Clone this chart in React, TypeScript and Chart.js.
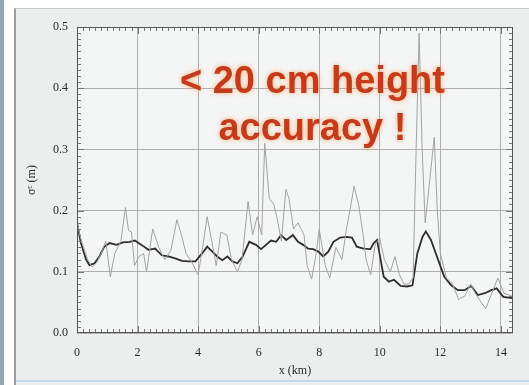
import React, { useEffect, useRef } from "react";
import { Chart, registerables } from "chart.js";

Chart.register(...registerables);

// Smoothed (black) series: x in km, sigma in m
const smoothX = [0, 0.13, 0.3, 0.41, 0.58, 0.74, 0.9, 1.08, 1.3, 1.52, 1.74, 1.91, 2.13, 2.36, 2.58, 2.8, 3.02, 3.24, 3.47, 3.69, 3.91, 4.13, 4.3, 4.47, 4.63, 4.8, 4.97, 5.13, 5.3, 5.47, 5.69, 5.91, 6.08, 6.24, 6.41, 6.58, 6.74, 6.91, 7.13, 7.3, 7.47, 7.63, 7.8, 7.97, 8.13, 8.3, 8.47, 8.69, 8.91, 9.08, 9.24, 9.47, 9.69, 9.8, 9.91, 10.02, 10.13, 10.3, 10.47, 10.69, 10.91, 11.08, 11.24, 11.41, 11.52, 11.69, 11.91, 12.13, 12.36, 12.58, 12.8, 13.02, 13.24, 13.47, 13.69, 13.86, 14.08, 14.38];
const smoothY = [0.18, 0.147, 0.12, 0.111, 0.114, 0.125, 0.141, 0.147, 0.144, 0.148, 0.149, 0.151, 0.144, 0.136, 0.138, 0.127, 0.125, 0.122, 0.118, 0.117, 0.117, 0.13, 0.141, 0.133, 0.125, 0.119, 0.125, 0.117, 0.114, 0.125, 0.149, 0.144, 0.137, 0.144, 0.151, 0.149, 0.16, 0.152, 0.16, 0.149, 0.144, 0.138, 0.137, 0.133, 0.125, 0.133, 0.149, 0.156, 0.157, 0.156, 0.141, 0.138, 0.137, 0.147, 0.152, 0.122, 0.092, 0.084, 0.087, 0.077, 0.076, 0.078, 0.13, 0.157, 0.166, 0.152, 0.122, 0.092, 0.078, 0.07, 0.07, 0.077, 0.062, 0.065, 0.07, 0.073, 0.059, 0.057];

// Raw (grey) series
const rawX = [0, 0.15, 0.35, 0.5, 0.65, 0.8, 0.95, 1.1, 1.25, 1.45, 1.6, 1.7, 1.8, 1.9, 2.05, 2.2, 2.3, 2.5, 2.7, 2.9, 3.1, 3.3, 3.45, 3.6, 3.8, 4.0, 4.15, 4.3, 4.45, 4.6, 4.75, 4.95, 5.1, 5.3, 5.45, 5.65, 5.8, 5.95, 6.1, 6.2, 6.35, 6.5, 6.6, 6.75, 6.9, 7.0, 7.15, 7.3, 7.5, 7.6, 7.75, 7.9, 8.0, 8.2, 8.35, 8.55, 8.75, 8.9, 9.05, 9.15, 9.3, 9.45, 9.55, 9.7, 9.85, 10.0, 10.15, 10.35, 10.5, 10.65, 10.8, 10.95, 11.1, 11.2, 11.3, 11.4, 11.5, 11.65, 11.8, 11.9, 12.0, 12.2, 12.4, 12.6, 12.8, 13.0, 13.15, 13.35, 13.5, 13.7, 13.9, 14.1, 14.38];
const rawY = [0.18, 0.15, 0.12, 0.108, 0.115, 0.13, 0.15, 0.092, 0.13, 0.15, 0.205, 0.168, 0.165, 0.11, 0.125, 0.13, 0.1, 0.17, 0.14, 0.12, 0.135, 0.185, 0.16, 0.13, 0.115, 0.095, 0.14, 0.19, 0.15, 0.11, 0.165, 0.16, 0.12, 0.1, 0.12, 0.215, 0.16, 0.19, 0.16, 0.31, 0.22, 0.21, 0.19, 0.15, 0.235, 0.22, 0.17, 0.18, 0.16, 0.11, 0.088, 0.13, 0.17, 0.11, 0.09, 0.14, 0.12, 0.17, 0.21, 0.24, 0.21, 0.16, 0.12, 0.095, 0.145, 0.155, 0.12, 0.1, 0.125, 0.095, 0.08, 0.08, 0.09, 0.3, 0.49, 0.3, 0.18, 0.25, 0.32, 0.2, 0.13, 0.09, 0.08, 0.055, 0.06, 0.08, 0.065, 0.05, 0.04, 0.065, 0.09, 0.065, 0.06];

const xTicks = [0, 2, 4, 6, 8, 10, 12, 14];
const yTicks = [0, 0.1, 0.2, 0.3, 0.4, 0.5];
const annotationLines = ["< 20 cm height", "accuracy !"];
const xTitle = "x (km)";
const yTitle = "σᶜ (m)";

const SERIF = "'Liberation Serif', 'DejaVu Serif', serif";

const decorPlugin = {
  id: "decor",
  beforeDraw(chart: any) {
    const { ctx, chartArea } = chart;
    ctx.save();
    ctx.fillStyle = "#f4f5f5";
    ctx.fillRect(chartArea.left, chartArea.top, chartArea.right - chartArea.left, chartArea.bottom - chartArea.top);
    ctx.restore();
  },
  afterDatasetsDraw(chart: any) {
    const { ctx, chartArea, scales } = chart;
    const xs = scales.x;
    const ys = scales.y;
    ctx.save();
    // minor ticks
    ctx.strokeStyle = "#777";
    ctx.lineWidth = 1;
    ctx.beginPath();
    for (let i = 1; i < 50; i++) {
      const py = Math.round(ys.getPixelForValue(i / 100)) + 0.5;
      const len = i % 10 === 0 ? 7 : 4;
      ctx.moveTo(chartArea.left, py);
      ctx.lineTo(chartArea.left + len, py);
      ctx.moveTo(chartArea.right, py);
      ctx.lineTo(chartArea.right - len, py);
    }
    for (let i = 1; i < 72; i++) {
      const v = i * 0.2;
      const px = Math.round(xs.getPixelForValue(v)) + 0.5;
      const len = i % 10 === 0 ? 7 : 4;
      ctx.moveTo(px, chartArea.bottom);
      ctx.lineTo(px, chartArea.bottom - len);
      ctx.moveTo(px, chartArea.top);
      ctx.lineTo(px, chartArea.top + len);
    }
    ctx.stroke();
    // border
    ctx.strokeStyle = "#555";
    ctx.strokeRect(chartArea.left + 0.5, chartArea.top + 0.5, chartArea.right - chartArea.left - 1, chartArea.bottom - chartArea.top - 1);
    // annotation
    const cx = chartArea.left + (chartArea.right - chartArea.left) * 0.54;
    ctx.font = "bold 38px 'Liberation Sans', Arial, sans-serif";
    ctx.textAlign = "center";
    ctx.textBaseline = "middle";
    ctx.shadowColor = "rgba(255,150,70,0.75)";
    ctx.shadowBlur = 5;
    ctx.fillStyle = "#c63a1c";
    ctx.fillText(annotationLines[0], cx, 83);
    ctx.fillText(annotationLines[1], cx, 130);
    ctx.restore();
  },
};

export default function App() {
  const ref = useRef<HTMLCanvasElement | null>(null);
  useEffect(() => {
    if (!ref.current) return;
    const chart = new Chart(ref.current, {
      type: "line",
      data: {
        datasets: [
          {
            label: "raw",
            data: rawX.map((x, i) => ({ x, y: rawY[i] })),
            borderColor: "#a3a3a3",
            borderWidth: 1,
            pointRadius: 0,
            tension: 0,
          },
          {
            label: "smoothed",
            data: smoothX.map((x, i) => ({ x, y: smoothY[i] })),
            borderColor: "#2e2e2e",
            borderWidth: 1.8,
            pointRadius: 0,
            tension: 0,
          },
        ],
      },
      options: {
        responsive: false,
        animation: false,
        layout: { padding: { left: 0, top: 27, right: 16, bottom: 0 } },
        plugins: { legend: { display: false }, tooltip: { enabled: false } },
        scales: {
          x: {
            type: "linear",
            min: 0,
            max: 14.4,
            afterFit: (s: any) => { s.height = 52; },
            afterBuildTicks: (s: any) => { s.ticks = xTicks.map((v) => ({ value: v })); },
            border: { display: false },
            grid: { color: "#b0b0b0", lineWidth: 1, drawTicks: false },
            ticks: {
              padding: 13,
              color: "#2a2a2a",
              font: { family: SERIF, size: 12 },
              callback: (v: any) => String(v),
            },
            title: {
              display: true,
              text: xTitle,
              color: "#2a2a2a",
              font: { family: SERIF, size: 12 },
              padding: { top: 0, bottom: 7 },
            },
          },
          y: {
            type: "linear",
            min: 0,
            max: 0.5,
            afterFit: (s: any) => { s.width = 77; },
            afterBuildTicks: (s: any) => { s.ticks = yTicks.map((v) => ({ value: v })); },
            border: { display: false },
            grid: { color: "#b0b0b0", lineWidth: 1, drawTicks: false },
            ticks: {
              padding: 9,
              color: "#2a2a2a",
              font: { family: SERIF, size: 12 },
              callback: (v: any) => Number(v).toFixed(1),
            },
            title: {
              display: true,
              text: yTitle,
              color: "#2a2a2a",
              font: { family: SERIF, size: 12 },
              padding: { top: 25, bottom: 0 },
            },
          },
        },
      },
      plugins: [decorPlugin],
    });
    return () => chart.destroy();
  }, []);

  return (
    <div style={{ position: "fixed", left: 0, top: 0, width: 529, height: 385, background: "#ffffff", overflow: "hidden" }}>
      <div style={{ position: "absolute", left: 0, top: 0, width: 4, height: 385, background: "#93a3b6" }} />
      <div style={{ position: "absolute", left: 14, top: 8, width: 515, height: 377, background: "#eceeee", borderLeft: "2px solid #98a0a6", borderTop: "1px solid #c4c9cc", boxSizing: "border-box" }} />
      <div style={{ position: "absolute", left: 16, top: 380, width: 513, height: 2, background: "#c9d8e6" }} />
      <canvas ref={ref} width={529} height={385} style={{ position: "absolute", left: 0, top: 0, width: 529, height: 385 }} />
    </div>
  );
}
